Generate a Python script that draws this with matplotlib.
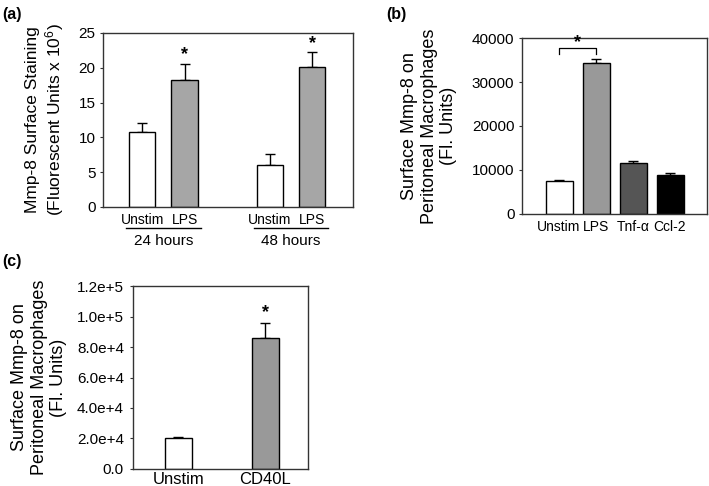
import numpy as np
import matplotlib
matplotlib.use("Agg")
import matplotlib.pyplot as plt
from matplotlib.ticker import FuncFormatter

plt.rcParams["font.family"] = ["Liberation Sans", "DejaVu Sans"]
plt.rcParams["mathtext.fontset"] = "custom"
plt.rcParams["mathtext.rm"] = "Liberation Sans"
plt.rcParams["mathtext.it"] = "Liberation Sans:italic"

# ── Panel (a): Mmp-8 surface staining, 24 h vs 48 h ─────────────
a_labels = ["Unstim", "LPS", "Unstim", "LPS"]
a_groups = ["24 hours", "48 hours"]
a_mean = [10.8, 18.2, 6.0, 20.1]
a_err = [1.2, 2.4, 1.6, 2.1]
a_sig = [False, True, False, True]

# ── Panel (b): peritoneal macrophages, stimuli ──────────────────
b_labels = ["Unstim", "LPS", "Tnf-α", "Ccl-2"]
b_mean = [7500, 34400, 11500, 8900]
b_err = [200, 800, 450, 400]

# ── Panel (c): CD40L ────────────────────────────────────────────
c_labels = ["Unstim", "CD40L"]
c_mean = [20000, 85800]
c_err = [700, 10200]
c_sig = [False, True]

EDGE = "black"
SPINE = "#333333"


def frame(ax):
    for s in ax.spines.values():
        s.set_color(SPINE)
        s.set_linewidth(1.0)
    ax.tick_params(axis="x", length=0)
    ax.tick_params(axis="y", length=2.5, width=0.8, color=SPINE, direction="out")


def stars(ax, x, tops, sig, off=6.5):
    for xi, t, s in zip(x, tops, sig):
        if s:
            ax.annotate("*", (xi, t), xytext=(0, off), textcoords="offset points",
                        ha="center", va="center", fontsize=13, fontweight="bold")


fig = plt.figure(figsize=(7.09, 4.86), dpi=100)

# (a)
ax = fig.add_axes([0.1453, 0.5741, 0.3526, 0.3580])
xa = np.array([0, 1, 3, 4])
cols_a = ["white", "#a6a6a6", "white", "#a6a6a6"]
ax.bar(xa, a_mean, width=0.62, color=cols_a, edgecolor=EDGE, linewidth=1.0, zorder=2)
ax.errorbar(xa, a_mean, yerr=[np.zeros(4), a_err], fmt="none", ecolor="black",
            elinewidth=1.0, capsize=3.5, capthick=1.0, zorder=1)
stars(ax, xa, np.array(a_mean) + np.array(a_err), a_sig)
ax.set_xlim(-0.92, 4.96)
ax.set_ylim(0, 25)
ax.set_yticks([0, 5, 10, 15, 20, 25])
ax.set_xticks(xa)
ax.set_xticklabels(a_labels, fontsize=10)
frame(ax)
ax.tick_params(axis="x", pad=4)
ax.tick_params(axis="y", labelsize=11, pad=3)
tr = ax.get_xaxis_transform()
for k, g in enumerate(a_groups):
    cx = xa[2 * k:2 * k + 2].mean()
    ax.plot([cx - 0.88, cx + 0.88], [-0.12, -0.12], color="black", lw=1.0,
            transform=tr, clip_on=False)
    ax.text(cx, -0.195, g, transform=tr, ha="center", va="center", fontsize=11)
ax.set_ylabel("Mmp-8 Surface Staining\n(Fluorescent Units x 10$^{6}$)", fontsize=12.5)
ax.yaxis.set_label_coords(-0.148, 0.5)

# (b)
ax = fig.add_axes([0.7363, 0.5597, 0.2609, 0.3621])
xb = np.arange(len(b_labels))
cols_b = ["white", "#999999", "#555555", "black"]
ax.bar(xb, b_mean, width=0.73, color=cols_b, edgecolor=EDGE, linewidth=1.0, zorder=2)
ax.errorbar(xb, b_mean, yerr=[np.zeros(4), b_err], fmt="none", ecolor="black",
            elinewidth=1.0, capsize=3.5, capthick=1.0, zorder=1)
ax.plot([xb[0], xb[0], xb[1], xb[1]], [36400, 37700, 37700, 36400], color="black", lw=0.9)
ax.text((xb[0] + xb[1]) / 2, 39000, "*", ha="center", va="center",
        fontsize=13, fontweight="bold")
ax.set_xlim(-1.0, 4.0)
ax.set_ylim(0, 40000)
ax.set_yticks([0, 10000, 20000, 30000, 40000])
ax.set_xticks(xb)
ax.set_xticklabels(b_labels, fontsize=10)
frame(ax)
ax.tick_params(axis="x", pad=4)
ax.tick_params(axis="y", labelsize=11, pad=3)
ax.set_ylabel("Surface Mmp-8 on\nPeritoneal Macrophages\n(Fl. Units)", fontsize=13)
ax.yaxis.set_label_coords(-0.35, 0.5)

# (c)
ax = fig.add_axes([0.1876, 0.0350, 0.2468, 0.3765])
xc = np.arange(len(c_labels))
cols_c = ["white", "#999999"]
ax.bar(xc, c_mean, width=0.31, color=cols_c, edgecolor=EDGE, linewidth=1.0, zorder=2)
ax.errorbar(xc, c_mean, yerr=[np.zeros(2), c_err], fmt="none", ecolor="black",
            elinewidth=1.0, capsize=3.5, capthick=1.0, zorder=1)
stars(ax, xc, np.array(c_mean) + np.array(c_err), c_sig, off=7.5)
ax.set_xlim(-0.52, 1.49)
ax.set_ylim(0, 120000)
ax.set_yticks(np.arange(0, 120001, 20000))


def sci(v, pos):
    if v == 0:
        return "0.0"
    e = int(np.floor(np.log10(v)))
    return f"{v / 10 ** e:.1f}e+{e}"


ax.yaxis.set_major_formatter(FuncFormatter(sci))
ax.set_xticks(xc)
ax.set_xticklabels(c_labels, fontsize=12)
frame(ax)
ax.tick_params(axis="x", pad=2)
ax.tick_params(axis="y", labelsize=11, pad=4)
ax.set_ylabel("Surface Mmp-8 on\nPeritoneal Macrophages\n(Fl. Units)", fontsize=13)
ax.yaxis.set_label_coords(-0.375, 0.5)

# panel letters
fig.text(0.003, 0.985, "(a)", fontsize=11.5, fontweight="bold", va="top")
fig.text(0.545, 0.985, "(b)", fontsize=11.5, fontweight="bold", va="top")
fig.text(0.003, 0.478, "(c)", fontsize=11.5, fontweight="bold", va="top")

fig.savefig("out.png", dpi=100)
